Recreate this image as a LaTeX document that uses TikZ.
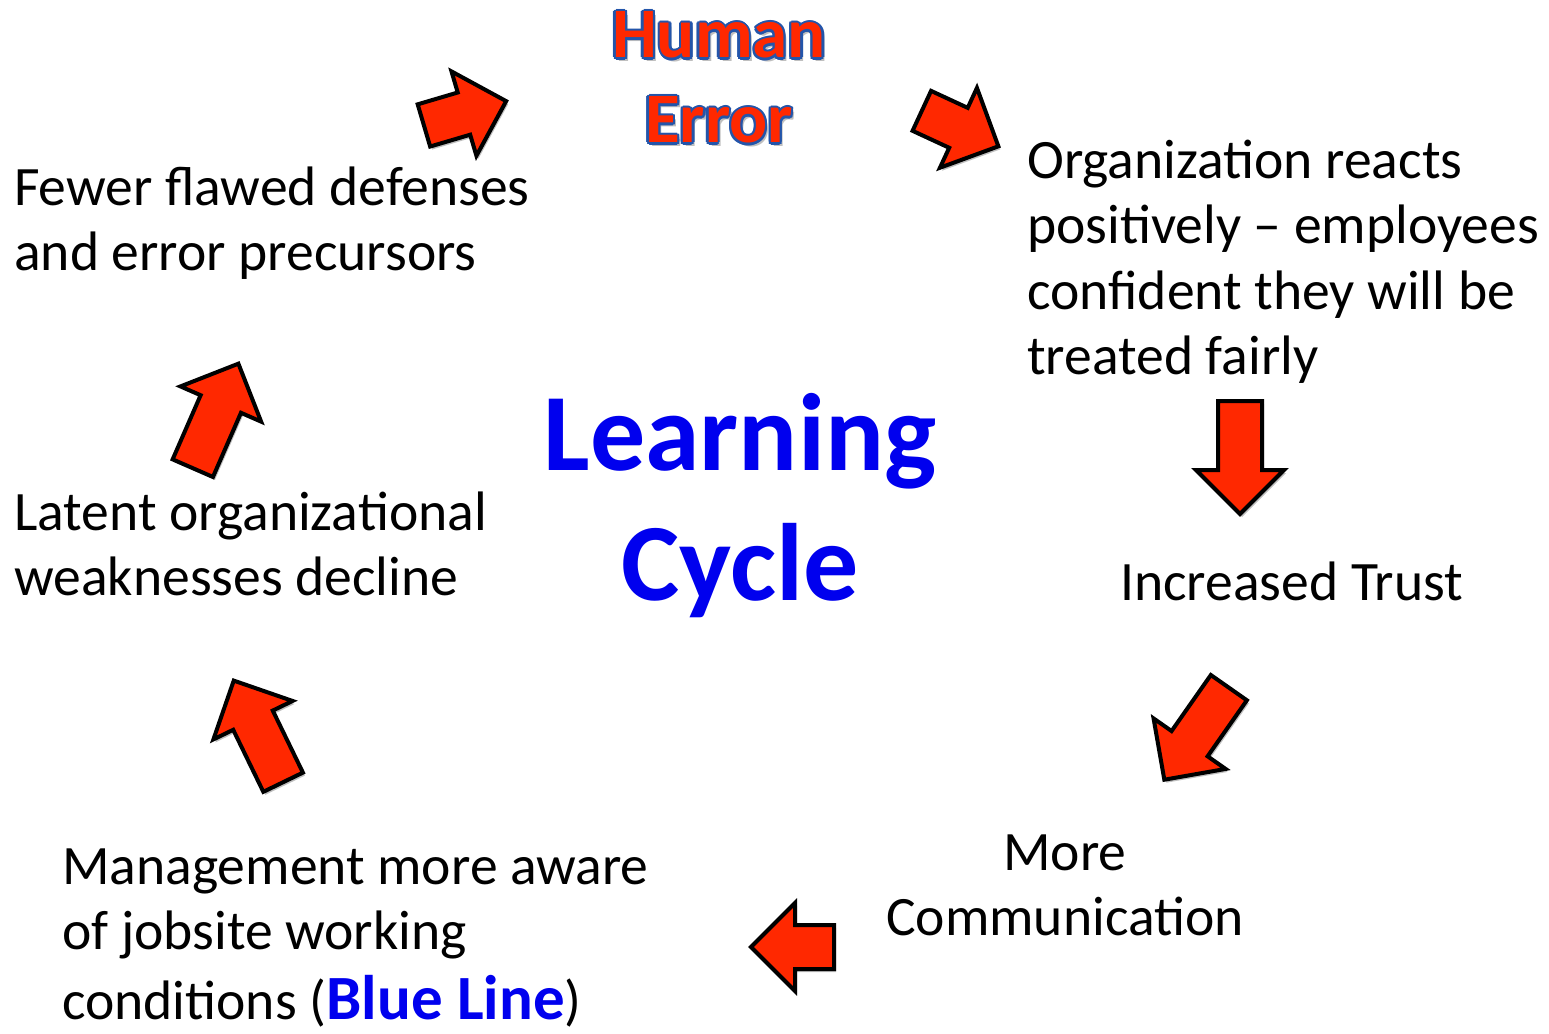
\documentclass[tikz,border=0pt]{standalone}
\usepackage{fontspec}
\setmainfont{Carlito}
\usetikzlibrary{shapes.arrows,shadows,calc}
\definecolor{arrred}{RGB}{255,40,0}
\definecolor{lblue}{RGB}{0,0,238}
\definecolor{heblue}{RGB}{35,85,170}
\newcommand\blockarr[4]{%
  \coordinate (#1t) at #2; \coordinate (#1h) at #3;
  \path let \p1=($(#1h)-(#1t)$) in
    node[blockarrow, rotate={atan2(\y1,\x1)}, minimum height={veclen(\x1,\y1)-#4}] (#1) at (#1t) {};}
\begin{document}
\begin{tikzpicture}[x=1pt,y=-1pt,
  natural spaces/.style={execute at begin node={\spaceskip=0pt\relax\xspaceskip=0pt\relax}},
  txt/.style={inner sep=0pt, font=\fontsize{55.6}{65.5}\selectfont, text width=720pt, align=left, anchor=base west, natural spaces},
  ctxt/.style={inner sep=0pt, font=\fontsize{55.6}{65.5}\selectfont, text width=720pt, align=center, anchor=base, natural spaces},
  bigtxt/.style={inner sep=0pt, font=\fontsize{110}{132}\selectfont\bfseries, text=lblue, text width=700pt, align=center, anchor=base},
  hetext/.style={inner sep=0pt, font=\fontsize{71}{85}\selectfont\bfseries, text width=400pt, align=center, anchor=base},
  blockarrow/.style={single arrow, draw=black, line width=4pt, fill=arrred, inner xsep=0pt, inner ysep=20pt,
    minimum width=40pt, single arrow head extend=22pt, anchor=tail, line join=miter,
    drop shadow={shadow xshift=2pt, shadow yshift=-3pt, opacity=0.25, fill=black}}
]
\useasboundingbox (0,0) rectangle (1549,1033);

% Human Error title with outline and shadow
\coordinate (he) at (719,58);
\node[hetext, text=black, opacity=0.25] (hesh) at ($(he)+(3,4)$) {Human\\Error};
\foreach \a in {0,30,...,330}
  \node[hetext, text=heblue] (heo\a) at ($(he)+(\a:2.2)$) {Human\\Error};
\node[hetext, text=arrred] (human) at (he) {Human\\Error};

% Texts
\node[txt] (fewer) at (14,205) {Fewer flawed defenses\\and error precursors};
\node[txt] (org) at (1027,178) {Organization reacts\\positively – employees\\confident they will be\\treated fairly};
\node[txt] (trust) at (1120,600) {Increased Trust};
\node[ctxt] (comm) at (1065,870) {More\\Communication};
\node[txt] (mgmt) at (62,884) {Management more aware\\of jobsite working\\[4pt]conditions ({\fontsize{63}{65}\selectfont\bfseries\color{lblue}Blue Line})};
\node[txt] (latent) at (14,530) {Latent organizational\\weaknesses decline};
\node[bigtxt] (learn) at (740,470) {Learning\\[-2pt]Cycle};

% Block arrows
\blockarr{a1}{(422,126)}{(510,100)}{6}
\blockarr{a2}{(920,110)}{(1002,148)}{6}
\blockarr{a3}{(1240,399)}{(1240,518)}{6}
\blockarr{a4}{(1230,686)}{(1162,783)}{6}
\blockarr{a5}{(836,947)}{(747,947)}{6}
\blockarr{a6}{(192,470)}{(240,360)}{6}
\blockarr{a7}{(284,784)}{(232,677)}{6}
\end{tikzpicture}
\end{document}
